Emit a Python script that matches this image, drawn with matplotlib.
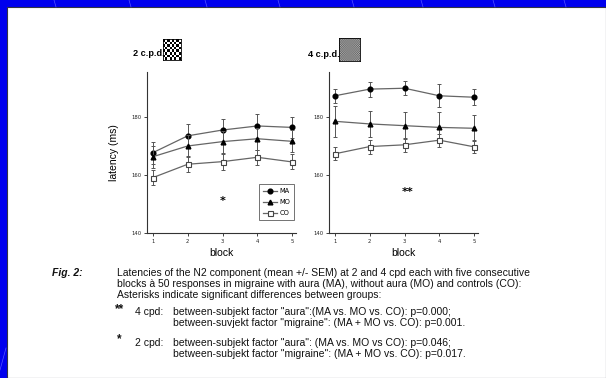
import numpy as np
import matplotlib
matplotlib.use("Agg")
import matplotlib.pyplot as plt
from matplotlib.patches import Rectangle
from matplotlib.lines import Line2D

blocks = [1, 2, 3, 4, 5]
groups = ["MA", "MO", "CO"]

# 2 cpd
ma_2 = [167.7, 173.5, 175.5, 176.9, 176.4]
mo_2 = [166.3, 170.0, 171.5, 172.5, 171.6]
co_2 = [159.1, 163.7, 164.6, 166.1, 164.5]
ma_2_sem = [3.8, 4.0, 3.8, 4.1, 3.7]
mo_2_sem = [3.8, 3.8, 3.8, 3.8, 3.8]
co_2_sem = [2.6, 2.8, 2.8, 2.6, 2.6]

# 4 cpd
ma_4 = [187.3, 189.6, 189.9, 187.3, 186.8]
mo_4 = [178.5, 177.6, 177.0, 176.4, 176.1]
co_4 = [167.3, 169.8, 170.4, 172.0, 169.7]
ma_4_sem = [2.5, 2.6, 2.4, 4.0, 2.8]
mo_4_sem = [5.4, 4.4, 4.6, 5.2, 4.5]
co_4_sem = [2.2, 2.4, 2.4, 2.2, 2.2]

yticks = [140, 160, 180]

W, H = 606, 378
fig = plt.figure(figsize=(W / 100, H / 100), dpi=100)
fig.patch.set_facecolor("#0000EE")

# white panel
fig.patches.append(Rectangle((7 / W, 0), 1 - 7 / W, 1 - 7 / H, transform=fig.transFigure,
                             facecolor="white", edgecolor="#333344", linewidth=0.8, zorder=-5))
# faint diagonal lines in blue border
for x in [54, 129, 205, 278, 352, 421, 493, 564]:
    fig.add_artist(Line2D([x / W, (x + 2) / W], [1, 1 - 7 / H], transform=fig.transFigure,
                          color="#5555ff", lw=0.5, zorder=-4))
fig.add_artist(Line2D([0, 6 / W], [8 / H, 30 / H], transform=fig.transFigure,
                      color="#5555ff", lw=0.5, zorder=-4))

styles = {
    "MA": dict(marker="o", mfc="black", mec="black", ms=3.4),
    "MO": dict(marker="^", mfc="black", mec="black", ms=3.4),
    "CO": dict(marker="s", mfc="white", mec="#444444", ms=3.6, mew=0.8),
}

def panel(left, data, sems, show_ylabel):
    ax = fig.add_axes([left / W, 1 - 233 / H, 149 / W, (233 - 72) / H])
    ax.set_facecolor("none")
    handles = []
    for g, y, e in zip(groups, data, sems):
        ax.errorbar(blocks, y, yerr=e, color="#777777", ecolor="#555555", elinewidth=0.7,
                    capsize=1.5, capthick=0.7, lw=0)
        h, = ax.plot(blocks, y, color="#666666", lw=0.9, label=g, **styles[g])
        handles.append(h)
    ax.set_xlim(0.83, 5.11)
    ax.set_ylim(140, 195.5)
    ax.set_xticks(blocks)
    ax.set_yticks(yticks)
    ax.tick_params(labelsize=3.8, length=2, width=0.6, pad=2, colors="#222222")
    for s in ["top", "right"]:
        ax.spines[s].set_visible(False)
    for s in ["left", "bottom"]:
        ax.spines[s].set_linewidth(0.8)
        ax.spines[s].set_color("#333333")
    ax.set_xlabel("block", fontsize=7.5, labelpad=3, family="Liberation Sans")
    if show_ylabel:
        ax.set_ylabel("latency (ms)", fontsize=7.5, labelpad=9, family="Liberation Sans")
    return ax, handles

axL, hL = panel(147, [ma_2, mo_2, co_2], [ma_2_sem, mo_2_sem, co_2_sem], True)
axR, hR = panel(329, [ma_4, mo_4, co_4], [ma_4_sem, mo_4_sem, co_4_sem], False)

leg = axL.legend(handles=hL, loc="lower right", bbox_to_anchor=(1.01, 0.06), fontsize=4.8,
                 frameon=True, fancybox=False, edgecolor="#333333", handlelength=2.0,
                 borderpad=0.6, labelspacing=0.75, handletextpad=0.4)
leg.get_frame().set_linewidth(0.6)

axL.text(3, 151, "*", ha="center", va="center", fontsize=8, fontweight="bold")
axR.text(3.1, 154, "**", ha="center", va="center", fontsize=8, fontweight="bold")

# titles
fig.text(133 / W, 1 - 56 / H, "2 c.p.d.", fontsize=6.6, fontweight="bold",
         family="Liberation Sans", ha="left", va="baseline")
fig.text(308 / W, 1 - 57 / H, "4 c.p.d.", fontsize=6.6, fontweight="bold",
         family="Liberation Sans", ha="left", va="baseline")

# checkerboard squares
n = 8
chk = (np.indices((n, n)).sum(axis=0) % 2).astype(float)
axc = fig.add_axes([163 / W, 1 - 60 / H, 18 / W, 21 / H])
axc.imshow(chk, cmap="gray", interpolation="nearest", aspect="auto")
axc.set_xticks([]); axc.set_yticks([])
for s in axc.spines.values():
    s.set_linewidth(0.6)
m = 20
chk2 = 0.35 + 0.35 * (np.indices((m, m)).sum(axis=0) % 2)
axg = fig.add_axes([339 / W, 1 - 61 / H, 21 / W, 23 / H])
axg.imshow(chk2, cmap="gray", vmin=0, vmax=1, interpolation="bilinear", aspect="auto")
axg.set_xticks([]); axg.set_yticks([])
for s in axg.spines.values():
    s.set_linewidth(0.6)

# caption
fam = "Liberation Sans"
def t(x, y, s, fs=7.5, **kw):
    fig.text(x / W, 1 - y / H, s, fontsize=fs, family=fam, va="baseline", color="#111111", **kw)

t(52, 276, "Fig. 2:", fontweight="bold", style="italic")
t(117, 276, "Latencies of the N2 component (mean +/- SEM) at 2 and 4 cpd each with five consecutive")
t(117, 287, "blocks à 50 responses in migraine with aura (MA), without aura (MO) and controls (CO):")
t(117, 298, "Asterisks indicate significant differences between groups:")
t(115, 312, "**", fs=8.5, fontweight="bold")
t(135, 315, "4 cpd:")
t(173, 315, "between-subjekt factor \"aura\":(MA vs. MO vs. CO): p=0.000;")
t(173, 326, "between-suvjekt factor \"migraine\": (MA + MO vs. CO): p=0.001.")
t(117, 342, "*", fs=8.5, fontweight="bold")
t(135, 346, "2 cpd:")
t(173, 346, "between-subjekt factor \"aura\": (MA vs. MO vs CO): p=0.046;")
t(173, 357, "between-subjekt factor \"migraine\": (MA + MO vs. CO): p=0.017.")

fig.savefig("out.png", dpi=100, facecolor=fig.get_facecolor())
